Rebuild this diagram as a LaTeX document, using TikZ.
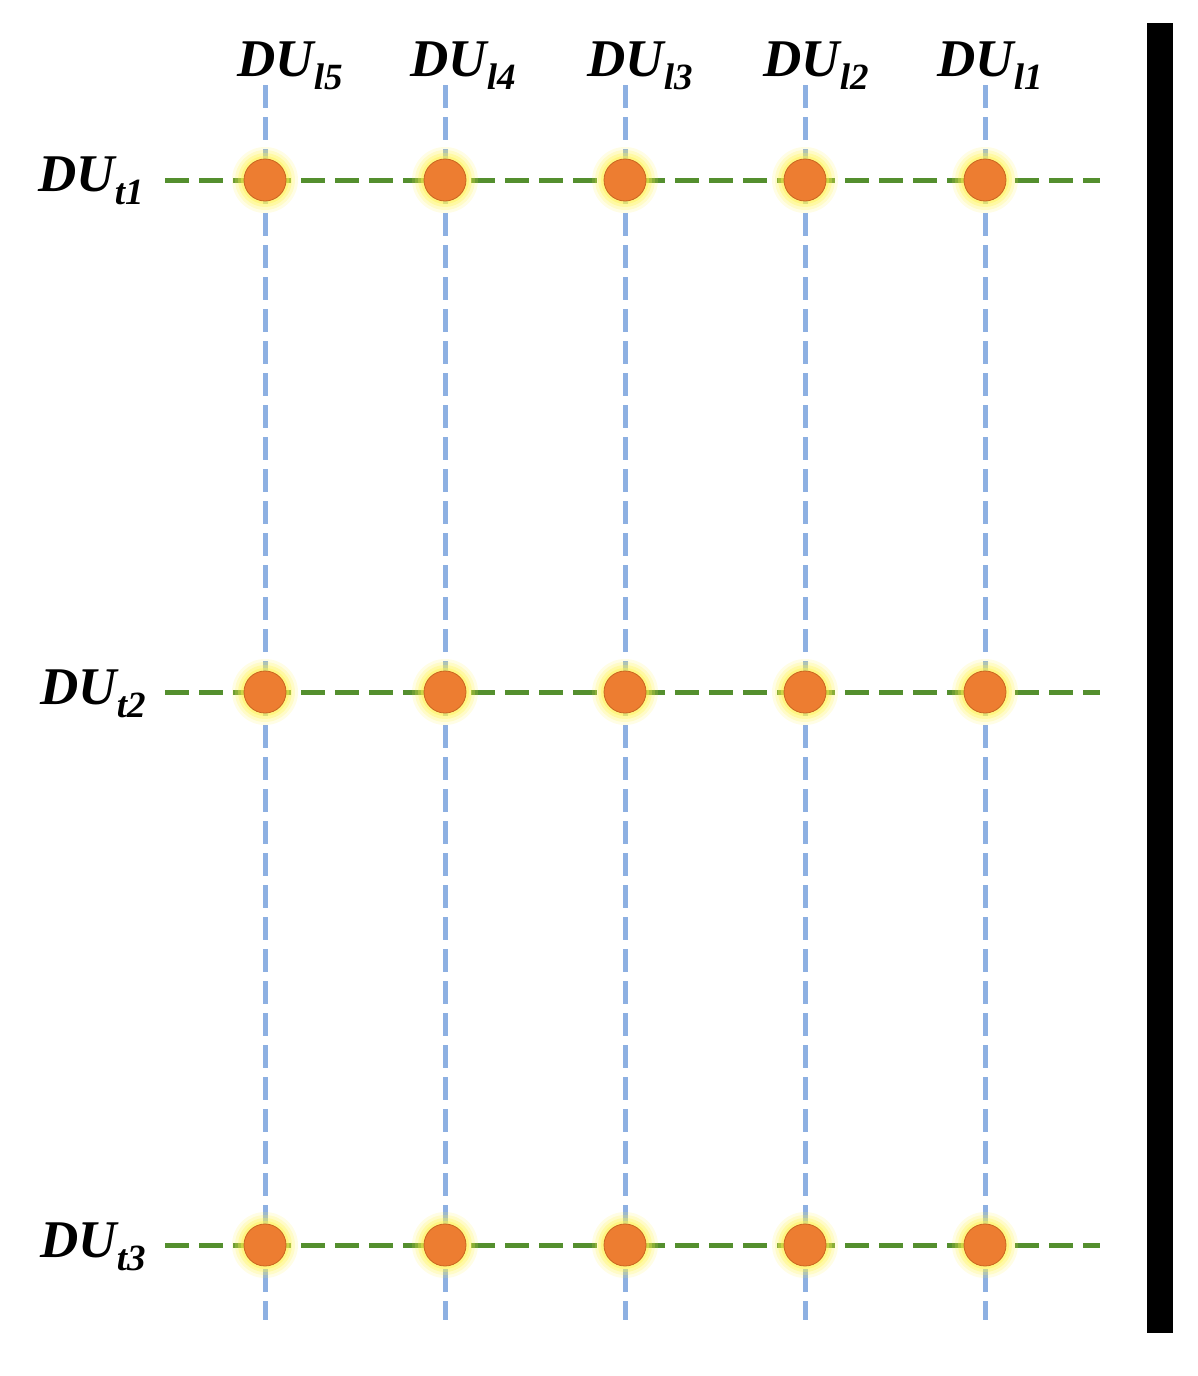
\documentclass[tikz,border=0pt]{standalone}
\usepackage{fontspec}
\setmainfont{Liberation Serif}
\definecolor{dotor}{HTML}{ED7D31}
\definecolor{dotedge}{HTML}{C9651F}
\definecolor{gline}{HTML}{548F2E}
\definecolor{bline}{HTML}{8DB0E2}
\definecolor{glowc}{HTML}{FFF350}
\newcommand{\lbl}[2]{#1\raisebox{-13pt}{\fontsize{37}{37}\selectfont #2}}
\begin{document}
\begin{tikzpicture}[x=1pt,y=-1pt,
  lab/.style={font=\fontsize{53}{53}\selectfont\bfseries\itshape, inner sep=0pt, anchor=base west},
  hline/.style={draw=gline, line width=5pt, dash pattern=on 24pt off 10pt},
  vline/.style={draw=bline, line width=5pt, dash pattern=on 23pt off 9pt},
  dot/.style={circle, fill=dotor, draw=dotedge, line width=0.8pt, minimum size=42pt, inner sep=0pt},
  bar/.style={fill=black}]
\useasboundingbox (0,0) rectangle (1197,1376);
% top labels
\node[lab] (l5) at (237,76) {\lbl{DU}{l5}};
\node[lab] (l4) at (410,76) {\lbl{DU}{l4}};
\node[lab] (l3) at (587,76) {\lbl{DU}{l3}};
\node[lab] (l2) at (763,76) {\lbl{DU}{l2}};
\node[lab] (l1) at (937,76) {\lbl{DU}{l1}};
% left labels
\node[lab] (t1) at (38,191) {\lbl{DU}{t1}};
\node[lab] (t2) at (40,704) {\lbl{DU}{t2}};
\node[lab] (t3) at (40,1257) {\lbl{DU}{t3}};
% line ends
\foreach \c/\x in {5/265,4/445,3/625,2/805,1/985}{
  \coordinate (top\c) at (\x,85);
  \coordinate (bot\c) at (\x,1320);
}
\foreach \r/\y in {1/180,2/692,3/1245}{
  \coordinate (lft\r) at (165,\y);
  \coordinate (rgt\r) at (1100,\y);
}
\foreach \c in {5,4,3,2,1} \draw[vline] (top\c) -- (bot\c);
\foreach \r in {1,2,3} \draw[hline] (lft\r) -- (rgt\r);
% glows and dots
\foreach \r/\y in {1/180,2/692,3/1245}{
  \foreach \c/\x in {5/265,4/445,3/625,2/805,1/985}{
    \foreach \rad/\op in {33/0.15,30/0.2,27/0.3,24/0.4}
      \fill[glowc, opacity=\op] (\x,\y) circle[radius=\rad];
    \node[dot] (n\r\c) at (\x,\y) {};
  }
}
% black bar
\fill[bar] (1147,23) rectangle (1173,1333);
\end{tikzpicture}
\end{document}
